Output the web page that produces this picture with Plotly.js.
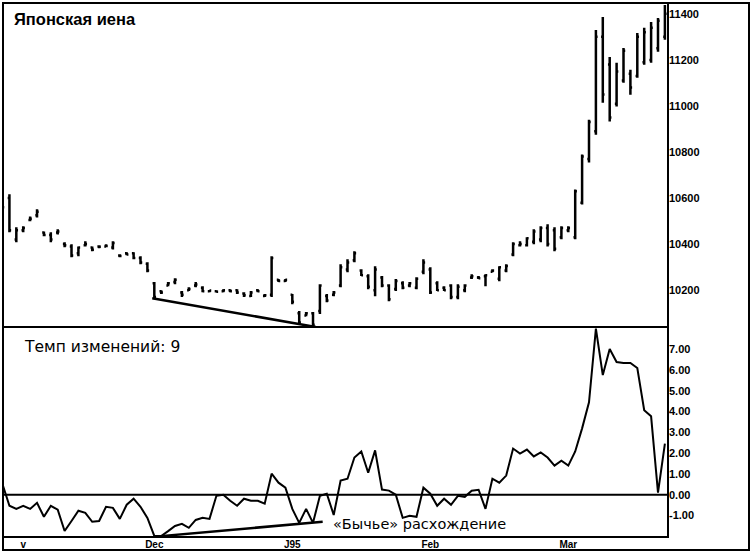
<!DOCTYPE html>
<html>
<head>
<meta charset="utf-8">
<script src="https://cdn.plot.ly/plotly-3.0.1.min.js"></script>
<style>html,body{margin:0;padding:0;background:#fff;}#chart{width:752px;height:552px;}</style>
</head>
<body>
<div id="chart"></div>
<script>
// Day index of each bar
var dayIndex = [];
for (var i = 0; i < 97; i++) dayIndex.push(i);

var priceHigh = [
10590,10616,10473,10477,10520,10551,10455,10451,10464,10408,
10399,10390,10412,10390,10395,10399,10412,10356,10365,10365,
10347,10321,10235,10200,10235,10252,10196,10213,10235,10217,
10200,10200,10204,10204,10204,10191,10196,10204,10183,10347,
10248,10248,10183,10109,10105,10105,10226,10183,10196,10313,
10334,10369,10291,10269,10304,10261,10226,10248,10239,10235,
10256,10334,10300,10239,10217,10226,10226,10226,10269,10261,
10269,10291,10304,10313,10408,10412,10430,10464,10477,10486,
10473,10477,10477,10637,10789,10940,11330,11386,11213,11187,
11252,11157,11317,11339,11365,11382,11438];

var priceLow = [
10550,10451,10408,10451,10499,10516,10434,10408,10442,10386,
10343,10347,10390,10369,10382,10386,10377,10343,10352,10334,
10313,10278,10161,10183,10217,10226,10170,10196,10213,10191,
10191,10191,10191,10191,10183,10170,10170,10191,10170,10170,
10235,10235,10139,10053,10087,10044,10096,10148,10174,10213,
10278,10321,10261,10204,10174,10213,10152,10196,10204,10213,
10204,10269,10183,10196,10196,10161,10161,10191,10248,10248,
10217,10278,10239,10278,10347,10390,10390,10399,10408,10390,
10369,10421,10451,10421,10572,10754,10875,11014,10932,10997,
11101,11049,11122,11179,11187,11235,11287];

var priceOpen = [
10570,10600,10420,10460,10505,10525,10450,10440,10450,10400,
10390,10360,10395,10385,10390,10390,10385,10350,10360,10360,
10340,10315,10230,10195,10220,10235,10190,10200,10220,10210,
10195,10195,10195,10200,10200,10185,10175,10200,10175,10180,
10245,10240,10180,10100,10090,10100,10110,10175,10180,10220,
10290,10330,10285,10260,10200,10255,10220,10205,10230,10220,
10210,10280,10290,10230,10210,10220,10170,10200,10255,10255,
10260,10280,10250,10285,10355,10395,10395,10410,10420,10470,
10460,10430,10460,10430,10580,10770,10890,11300,11180,11010,
11110,11140,11130,11190,11200,11250,11300];

var priceClose = [
10560,10460,10460,10470,10510,10540,10440,10420,10455,10395,
10350,10385,10400,10375,10388,10392,10405,10348,10355,10340,
10320,10285,10170,10190,10230,10245,10180,10205,10225,10195,
10198,10193,10200,10195,10190,10178,10190,10195,10178,10340,
10240,10245,10150,10060,10100,10050,10220,10155,10190,10300,
10320,10360,10265,10215,10290,10220,10160,10240,10210,10230,
10250,10320,10190,10200,10200,10170,10215,10220,10260,10252,
10265,10285,10300,10305,10400,10400,10425,10455,10470,10400,
10380,10470,10470,10630,10780,10930,11300,11050,10950,11150,
11240,11080,11300,11320,11340,11370,11400];

// Rate of change, 9 days
var rocValues = [
0.5,-0.53,-0.68,-0.53,-0.68,-0.39,-1.06,-0.53,-0.72,-1.74,
-1.26,-0.77,-0.87,-1.30,-1.26,-0.58,-0.63,-1.16,-0.48,-0.19,
-0.58,-1.11,-1.98,-1.98,-1.75,-1.50,-1.40,-1.59,-1.21,-1.11,
-1.16,-0.05,0.0,-0.29,-0.53,-0.19,-0.29,-0.29,-0.43,1.01,
0.58,0.34,-0.68,-1.35,-0.68,-1.35,-0.05,0.05,-0.97,0.68,
0.77,1.79,2.08,1.06,2.13,0.25,0.2,0.0,-1.11,-1.01,
-1.06,0.34,0.05,-0.53,-0.19,-0.48,-0.05,-0.10,0.19,0.24,
-0.68,0.77,0.58,0.92,2.22,1.98,2.17,1.84,2.03,1.79,
1.40,1.64,1.40,2.08,3.19,4.44,7.98,5.75,7.0,6.38,
6.33,6.33,6.09,4.06,3.77,0.10,2.46];

// Divergence trend lines
var priceTrendX = [21.7, 45.4];
var priceTrendY = [10165, 10040];
var rocTrendX = [22.5, 46.4];
var rocTrendY = [-2.0, -1.3];

// Axis ticks
var dateTickVals = [3, 22, 42, 62, 82];
var dateTickText = ['v', 'Dec', 'J95', 'Feb', 'Mar'];
var priceTickVals = [10200, 10400, 10600, 10800, 11000, 11200, 11400];
var priceTickText = ['10200', '10400', '10600', '10800', '11000', '11200', '11400'];
var rocTickVals = [-1, 0, 1, 2, 3, 4, 5, 6, 7];
var rocTickText = ['-1.00', '0.00', '1.00', '2.00', '3.00', '4.00', '5.00', '6.00', '7.00'];

var W = 752, H = 552;
var mL = 3, mR = 84, mT = 3, mB = 15;
var plotW = W - mL - mR, plotH = H - mT - mB;
var splitPx = 327;
var split = (H - mB - splitPx) / plotH;
function px(x) { return (x - mL) / plotW; }
function py(y) { return (H - mB - y) / plotH; }

var traces = [
  {
    type: 'ohlc', x: dayIndex, open: priceOpen, high: priceHigh, low: priceLow, close: priceClose,
    xaxis: 'x', yaxis: 'y', tickwidth: 0.25,
    increasing: {line: {color: '#000', width: 2.5}},
    decreasing: {line: {color: '#000', width: 2.5}},
    hoverinfo: 'skip'
  },
  {
    type: 'scatter', mode: 'lines', x: priceTrendX, y: priceTrendY, xaxis: 'x', yaxis: 'y',
    line: {color: '#000', width: 2.5}, hoverinfo: 'skip'
  },
  {
    type: 'scatter', mode: 'lines', x: dayIndex, y: rocValues, xaxis: 'x', yaxis: 'y2',
    line: {color: '#000', width: 2}, hoverinfo: 'skip'
  },
  {
    type: 'scatter', mode: 'lines', x: rocTrendX, y: rocTrendY, xaxis: 'x', yaxis: 'y2',
    line: {color: '#000', width: 2.5}, hoverinfo: 'skip'
  }
];

var tickFont = {family: 'Liberation Sans, Arial, sans-serif', size: 11, color: '#000', weight: 'bold'};

var layout = {
  width: W, height: H,
  margin: {l: mL, r: mR, t: mT, b: mB, pad: 0},
  paper_bgcolor: '#fff', plot_bgcolor: '#fff',
  showlegend: false,
  xaxis: {
    anchor: 'y2', range: [0.07, 96.45], rangeslider: {visible: false},
    tickvals: dateTickVals, ticktext: dateTickText, tickfont: {family: 'Liberation Sans, Arial, sans-serif', size: 10, color: '#000', weight: 'bold'},
    showgrid: false, zeroline: false, showline: false, ticks: ''
  },
  yaxis: {
    domain: [split, 1], range: [10040, 11447], side: 'right', anchor: 'x',
    tickvals: priceTickVals, ticktext: priceTickText, tickfont: tickFont,
    showgrid: false, zeroline: false, showline: false, ticks: ''
  },
  yaxis2: {
    domain: [0, split], range: [-2.03, 8.06], side: 'right', anchor: 'x',
    tickvals: rocTickVals, ticktext: rocTickText, tickfont: tickFont,
    showgrid: false, zeroline: false, showline: false, ticks: ''
  },
  shapes: [
    {type: 'rect', xref: 'paper', yref: 'paper', x0: 0, x1: 1, y0: split, y1: 1, line: {color: '#000', width: 2}},
    {type: 'rect', xref: 'paper', yref: 'paper', x0: 0, x1: 1, y0: 0, y1: split, line: {color: '#000', width: 2}},
    {type: 'rect', xref: 'paper', yref: 'paper', x0: 0, x1: px(749), y0: py(550), y1: 1, line: {color: '#000', width: 2}},
    {type: 'line', xref: 'paper', yref: 'y2', x0: 0, x1: 1, y0: 0, y1: 0, line: {color: '#000', width: 2}}
  ],
  annotations: [
    {xref: 'paper', yref: 'paper', x: px(12), y: py(8), xanchor: 'left', yanchor: 'top', showarrow: false,
     text: 'Японская иена', font: {family: 'Liberation Sans, Arial, sans-serif', size: 16.5, color: '#000', weight: 'bold'}},
    {xref: 'paper', yref: 'paper', x: px(22), y: py(336), xanchor: 'left', yanchor: 'top', showarrow: false,
     text: 'Темп изменений: 9', font: {family: 'DejaVu Sans, sans-serif', size: 15.5, color: '#000'}},
    {xref: 'paper', yref: 'paper', x: px(331), y: py(524), xanchor: 'left', yanchor: 'middle', showarrow: false,
     text: '«Бычье» расхождение', font: {family: 'DejaVu Sans, sans-serif', size: 14.5, color: '#000'}}
  ]
};

Plotly.newPlot('chart', traces, layout, {staticPlot: true, displayModeBar: false});
</script>
</body>
</html>
